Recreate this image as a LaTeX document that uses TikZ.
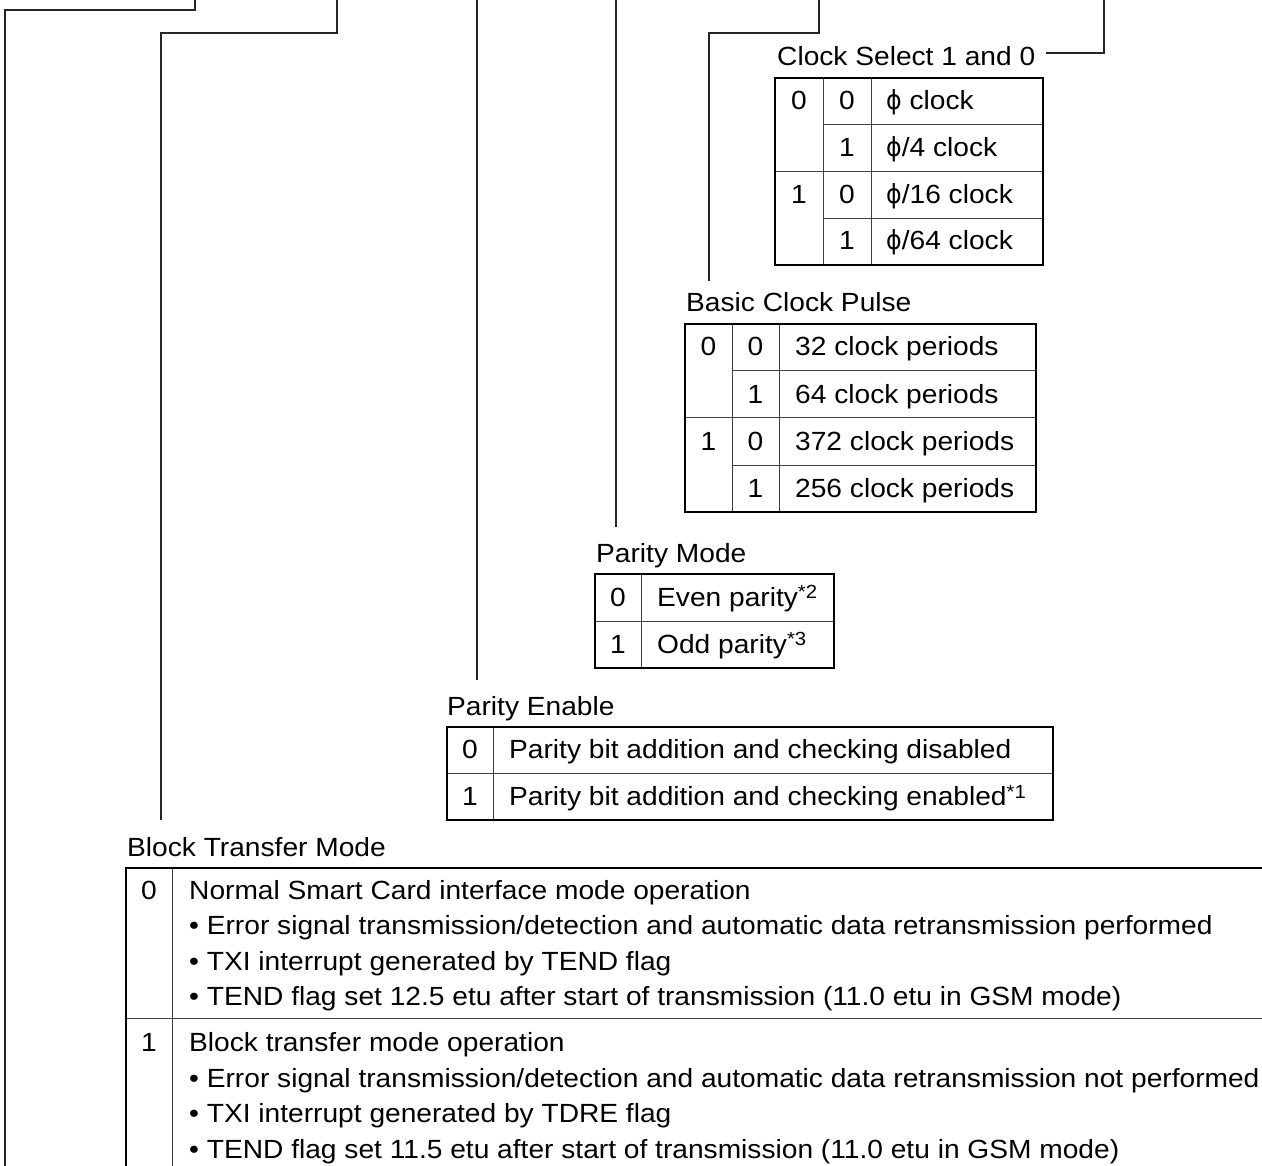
\documentclass[tikz,border=0pt]{standalone}
\usepackage{fontspec}
\setmainfont[FakeStretch=1.07]{Liberation Sans}
\newfontfamily\phifont[FakeStretch=0.9]{DejaVu Sans}
\newcommand{\phisym}{{\phifont ϕ}}
\newcommand{\fnote}[1]{\raisebox{7.5pt}{\fontsize{19}{19}\selectfont *#1}}
\begin{document}
\begin{tikzpicture}[x=1pt,y=-1pt,
  conn/.style={line width=1.3pt, black!85},
  outerbox/.style={line width=1.7pt, black},
  innerline/.style={line width=1pt, black!75},
  lbl/.style={anchor=base west, inner sep=0pt, font=\fontsize{26.3}{31}\selectfont},
  ctr/.style={anchor=base, inner sep=0pt, font=\fontsize{26.3}{31}\selectfont}]
\useasboundingbox (0,0) rectangle (1262,1166);

% ---------- connector ends ----------
\coordinate (t1) at (195,0);   \coordinate (e1) at (5,1166);
\coordinate (t2) at (337,0);   \coordinate (e2) at (161,820);
\coordinate (t3) at (477,0);   \coordinate (e3) at (477,680);
\coordinate (t4) at (616,0);   \coordinate (e4) at (616,527);
\coordinate (t5) at (819,0);   \coordinate (e5) at (709,281);
\coordinate (t6) at (1104,0);  \coordinate (e6) at (1046,53);

\draw[conn] (t1) -- ++(0,10) -| (e1);
\draw[conn] (t2) -- ++(0,33) -| (e2);
\draw[conn] (t3) -- (e3);
\draw[conn] (t4) -- (e4);
\draw[conn] (t5) -- ++(0,33) -| (e5);
\draw[conn] (t6) |- (e6);

% ---------- Clock Select ----------
\node[lbl] (csl) at (777,66) {Clock Select 1 and 0};
\draw[innerline] (823,78) -- (823,265) (871,78) -- (871,265)
  (823,124.75) -- (1043,124.75) (775,171.5) -- (1043,171.5) (823,218.25) -- (1043,218.25);
\draw[outerbox] (775,78) rectangle (1043,265);
\node[ctr] (cs-a0) at (799,110) {0};
\node[ctr] (cs-a1) at (799,203.5) {1};
\node[ctr] (cs-b0) at (847,110) {0};
\node[ctr] (cs-b1) at (847,156.5) {1};
\node[ctr] (cs-b2) at (847,203.5) {0};
\node[ctr] (cs-b3) at (847,250) {1};
\node[lbl] (cs-c0) at (886,110) {\phisym\ clock};
\node[lbl] (cs-c1) at (886,156.5) {\phisym/4 clock};
\node[lbl] (cs-c2) at (886,203.5) {\phisym/16 clock};
\node[lbl] (cs-c3) at (886,250) {\phisym/64 clock};

% ---------- Basic Clock Pulse ----------
\node[lbl] (bcp) at (686,312) {Basic Clock Pulse};
\draw[innerline] (732,324) -- (732,512) (779,324) -- (779,512)
  (732,371) -- (1036,371) (685,418) -- (1036,418) (732,465) -- (1036,465);
\draw[outerbox] (685,324) rectangle (1036,512);
\node[ctr] (bcp-a0) at (708.5,356) {0};
\node[ctr] (bcp-a1) at (708.5,450) {1};
\node[ctr] (bcp-b0) at (755.5,356) {0};
\node[ctr] (bcp-b1) at (755.5,403) {1};
\node[ctr] (bcp-b2) at (755.5,450) {0};
\node[ctr] (bcp-b3) at (755.5,497) {1};
\node[lbl] (bcp-c0) at (795,356) {32 clock periods};
\node[lbl] (bcp-c1) at (795,403) {64 clock periods};
\node[lbl] (bcp-c2) at (795,450) {372 clock periods};
\node[lbl] (bcp-c3) at (795,497) {256 clock periods};

% ---------- Parity Mode ----------
\node[lbl] (pm) at (596,562) {Parity Mode};
\draw[innerline] (641,574) -- (641,668) (595,621) -- (834,621);
\draw[outerbox] (595,574) rectangle (834,668);
\node[ctr] (pm-a0) at (618,606) {0};
\node[ctr] (pm-a1) at (618,653) {1};
\node[lbl] (pm-c0) at (657,606) {Even parity\fnote{2}};
\node[lbl] (pm-c1) at (657,653) {Odd parity\fnote{3}};

% ---------- Parity Enable ----------
\node[lbl] (pe) at (447,715) {Parity Enable};
\draw[innerline] (493,727) -- (493,820) (447,773.5) -- (1053,773.5);
\draw[outerbox] (447,727) rectangle (1053,820);
\node[ctr] (pe-a0) at (470,758.5) {0};
\node[ctr] (pe-a1) at (470,805.5) {1};
\node[lbl] (pe-c0) at (509,758.5) {Parity bit addition and checking disabled};
\node[lbl] (pe-c1) at (509,805.5) {Parity bit addition and checking enabled\fnote{1}};

% ---------- Block Transfer Mode ----------
\node[lbl] (btm) at (127,856) {Block Transfer Mode};
\draw[innerline] (172,868) -- (172,1170) (126,1018) -- (1265,1018);
\draw[outerbox] (1265,868) -- (126,868) -- (126,1170);
\node[ctr] (btm-a0) at (149,899) {0};
\node[ctr] (btm-a1) at (149,1051.5) {1};
\node[lbl] (btm-r0) at (189,899) {Normal Smart Card interface mode operation};
\node[lbl] (btm-r1) at (189,934.5) {• Error signal transmission/detection and automatic data retransmission performed};
\node[lbl] (btm-r2) at (189,970) {• TXI interrupt generated by TEND flag};
\node[lbl] (btm-r3) at (189,1005.5) {• TEND flag set 12.5 etu after start of transmission (11.0 etu in GSM mode)};
\node[lbl] (btm-s0) at (189,1051.5) {Block transfer mode operation};
\node[lbl] (btm-s1) at (189,1087) {• Error signal transmission/detection and automatic data retransmission not performed};
\node[lbl] (btm-s2) at (189,1122.5) {• TXI interrupt generated by TDRE flag};
\node[lbl] (btm-s3) at (189,1158) {• TEND flag set 11.5 etu after start of transmission (11.0 etu in GSM mode)};
\end{tikzpicture}
\end{document}
